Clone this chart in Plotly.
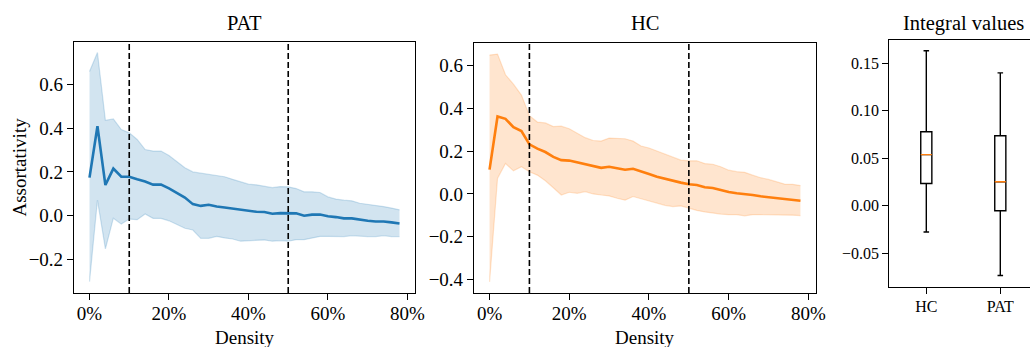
import plotly.graph_objects as go

# ---------------- data ----------------
density = list(range(0, 80, 2))  # percent

pat_mean = [0.174, 0.408, 0.14, 0.215, 0.178, 0.178, 0.166, 0.156, 0.142, 0.142,
            0.125, 0.103, 0.083, 0.053, 0.045, 0.05, 0.042, 0.038, 0.033, 0.026,
            0.02, 0.018, 0.017, 0.009, 0.012, 0.012, 0.011, 0.0, 0.005, 0.006,
            -0.002, -0.006, -0.012, -0.012, -0.018, -0.023, -0.026, -0.026, -0.03, -0.035]
pat_upper = [0.658, 0.744, 0.435, 0.441, 0.393, 0.378, 0.348, 0.302, 0.295, 0.295,
             0.275, 0.249, 0.219, 0.2, 0.194, 0.19, 0.184, 0.178, 0.166, 0.156,
             0.144, 0.141, 0.136, 0.128, 0.133, 0.132, 0.124, 0.109, 0.109, 0.106,
             0.086, 0.076, 0.071, 0.068, 0.057, 0.053, 0.048, 0.042, 0.035, 0.027]
pat_lower = [-0.30, 0.071, -0.151, -0.011, -0.038, -0.015, -0.018, 0.008, -0.012, -0.012,
             -0.023, -0.041, -0.057, -0.065, -0.103, -0.103, -0.094, -0.101, -0.106, -0.116,
             -0.113, -0.113, -0.110, -0.116, -0.113, -0.116, -0.109, -0.109, -0.101, -0.094,
             -0.094, -0.094, -0.095, -0.091, -0.094, -0.095, -0.095, -0.091, -0.095, -0.095]

hc_mean = [0.114, 0.362, 0.351, 0.312, 0.294, 0.232, 0.212, 0.196, 0.173, 0.158,
           0.156, 0.147, 0.141, 0.13, 0.122, 0.127, 0.121, 0.113, 0.118, 0.104,
           0.093, 0.08, 0.07, 0.06, 0.053, 0.045, 0.042, 0.031, 0.028, 0.019,
           0.009, 0.003, 0.0, -0.005, -0.011, -0.015, -0.02, -0.025, -0.028, -0.032]
hc_upper = [0.649, 0.654, 0.557, 0.513, 0.462, 0.366, 0.336, 0.332, 0.315, 0.317,
            0.305, 0.285, 0.263, 0.25, 0.247, 0.261, 0.261, 0.258, 0.247, 0.224,
            0.215, 0.201, 0.189, 0.173, 0.158, 0.155, 0.155, 0.142, 0.139, 0.127,
            0.111, 0.104, 0.101, 0.088, 0.076, 0.068, 0.057, 0.046, 0.045, 0.039]
hc_lower = [-0.411, 0.073, 0.142, 0.108, 0.127, 0.104, 0.088, 0.062, 0.029, -0.005,
            0.008, 0.003, 0.011, 0.0, -0.005, -0.009, -0.02, -0.029, -0.012, -0.023,
            -0.032, -0.043, -0.053, -0.059, -0.056, -0.066, -0.077, -0.084, -0.09, -0.094,
            -0.097, -0.097, -0.102, -0.097, -0.097, -0.097, -0.097, -0.097, -0.099, -0.101]

thresholds = [10, 50]

box_labels = ["HC", "PAT"]
box_pos = [1, 2]
box_upper = [0.1633, 0.140]
box_q3 = [0.078, 0.0738]
box_median = [0.0539, 0.0252]
box_q1 = [0.0234, -0.0053]
box_lower = [-0.0277, -0.0735]

x_ticks = [0, 20, 40, 60, 80]
pat_yticks = [-0.2, 0.0, 0.2, 0.4, 0.6]
hc_yticks = [-0.4, -0.2, 0.0, 0.2, 0.4, 0.6]
box_yticks = [-0.05, 0.0, 0.05, 0.10, 0.15]

# ---------------- style ----------------
W, H = 1030, 347
FONT = "Liberation Serif"
C0 = "#1f77b4"
C1 = "#ff7f0e"
C0A = "rgba(31,119,180,0.2)"
C1A = "rgba(255,127,14,0.2)"


def px_x(p):
    return p / W


def px_y(p):
    return 1 - p / H


def fmt(v, nd):
    s = f"{v:.{nd}f}"
    if v < 0:
        s = "\u2212" + s[1:]
    return s


fig = go.Figure()


def add_panel(mean, upper, lower, col, colA, xa, ya):
    fig.add_trace(go.Scatter(x=density, y=upper, mode="lines",
                             line=dict(color=colA, width=1.2),
                             xaxis=xa, yaxis=ya, showlegend=False, hoverinfo="skip"))
    fig.add_trace(go.Scatter(x=density, y=lower, mode="lines", fill="tonexty",
                             fillcolor=colA, line=dict(color=colA, width=1.2),
                             xaxis=xa, yaxis=ya, showlegend=False, hoverinfo="skip"))
    fig.add_trace(go.Scatter(x=density, y=mean, mode="lines",
                             line=dict(color=col, width=2.6),
                             xaxis=xa, yaxis=ya, showlegend=False))
    for t in thresholds:
        fig.add_shape(type="line", xref=xa, yref=f"{ya} domain", x0=t, x1=t, y0=0, y1=1,
                      line=dict(color="black", width=1.6, dash="6px,3px"))


add_panel(pat_mean, pat_upper, pat_lower, C0, C0A, "x", "y")
add_panel(hc_mean, hc_upper, hc_lower, C1, C1A, "x2", "y2")

# box plot
box_w = 0.15
fig.add_trace(go.Box(x=box_pos, q1=box_q1, median=box_median, q3=box_q3,
                     lowerfence=box_lower, upperfence=box_upper,
                     width=box_w, whiskerwidth=0.5, boxpoints=False,
                     fillcolor="rgba(255,255,255,0)",
                     line=dict(color="black", width=1.4),
                     xaxis="x3", yaxis="y3", showlegend=False))
mx, my = [], []
for p, m in zip(box_pos, box_median):
    mx += [p - box_w / 2, p + box_w / 2, None]
    my += [m, m, None]
fig.add_trace(go.Scatter(x=mx, y=my, mode="lines", line=dict(color=C1, width=1.4),
                         xaxis="x3", yaxis="y3", showlegend=False, hoverinfo="skip"))

axis_common = dict(showline=True, linecolor="black", linewidth=1.2, ticks="outside",
                   ticklen=6, tickwidth=1.2, tickcolor="black", showgrid=False,
                   zeroline=False, automargin=False)
tick_font = dict(family=FONT, size=19, color="black")

fig.update_layout(
    width=W, height=H, autosize=False, margin=dict(l=0, r=0, t=0, b=0, pad=0),
    paper_bgcolor="white", plot_bgcolor="white",
    xaxis=dict(domain=[px_x(74), px_x(415)], range=[-3.9, 81.9], tickvals=x_ticks,
               ticktext=[f"{v}%" for v in x_ticks], mirror=True, anchor="y",
               tickfont=tick_font, ticklabelstandoff=-3, **axis_common),
    yaxis=dict(domain=[px_y(293), px_y(42)], range=[-0.352, 0.792], tickvals=pat_yticks,
               ticktext=[fmt(v, 1) for v in pat_yticks], mirror=True, anchor="x",
               tickfont=tick_font, **axis_common),
    xaxis2=dict(domain=[px_x(474), px_x(816)], range=[-3.9, 81.9], tickvals=x_ticks,
                ticktext=[f"{v}%" for v in x_ticks], mirror=True, anchor="y2",
                tickfont=tick_font, ticklabelstandoff=-3, **axis_common),
    yaxis2=dict(domain=[px_y(293), px_y(42.5)], range=[-0.463, 0.708], tickvals=hc_yticks,
                ticktext=[fmt(v, 1) for v in hc_yticks], mirror=True, anchor="x2",
                tickfont=tick_font, **axis_common),
    xaxis3=dict(domain=[px_x(889.3), 1.0], range=[0.5, 0.5 + (1030 - 889.3) / 74.0],
                tickvals=box_pos, ticktext=box_labels, mirror=True, anchor="y3",
                tickfont=dict(family=FONT, size=16, color="black"),
                ticklabelstandoff=-2, **axis_common),
    yaxis3=dict(domain=[px_y(287.3), px_y(39.7)], range=[-0.0859, 0.1749],
                tickvals=box_yticks, ticktext=[fmt(v, 2) for v in box_yticks],
                anchor="x3", tickfont=dict(family=FONT, size=16, color="black"),
                **axis_common),
)

ann_font = dict(family=FONT, size=19, color="black")
title_font = dict(family=FONT, size=20.5, color="black")
annotations = [
    dict(text="PAT", x=px_x(244.5), y=px_y(23), font=title_font),
    dict(text="HC", x=px_x(645), y=px_y(23), font=title_font),
    dict(text="Integral values", x=px_x(963.7), y=px_y(24), font=title_font),
    dict(text="Density", x=px_x(244.5), y=px_y(337), font=ann_font),
    dict(text="Density", x=px_x(645), y=px_y(337), font=ann_font),
    dict(text="Assortativity", x=px_x(19), y=px_y(167.5), font=ann_font, textangle=-90),
]
for a in annotations:
    fig.add_annotation(xref="paper", yref="paper", showarrow=False,
                       xanchor="center", yanchor="middle", **a)

fig.write_html("out.html", config={"responsive": False},
               default_width="1030px", default_height="347px")
